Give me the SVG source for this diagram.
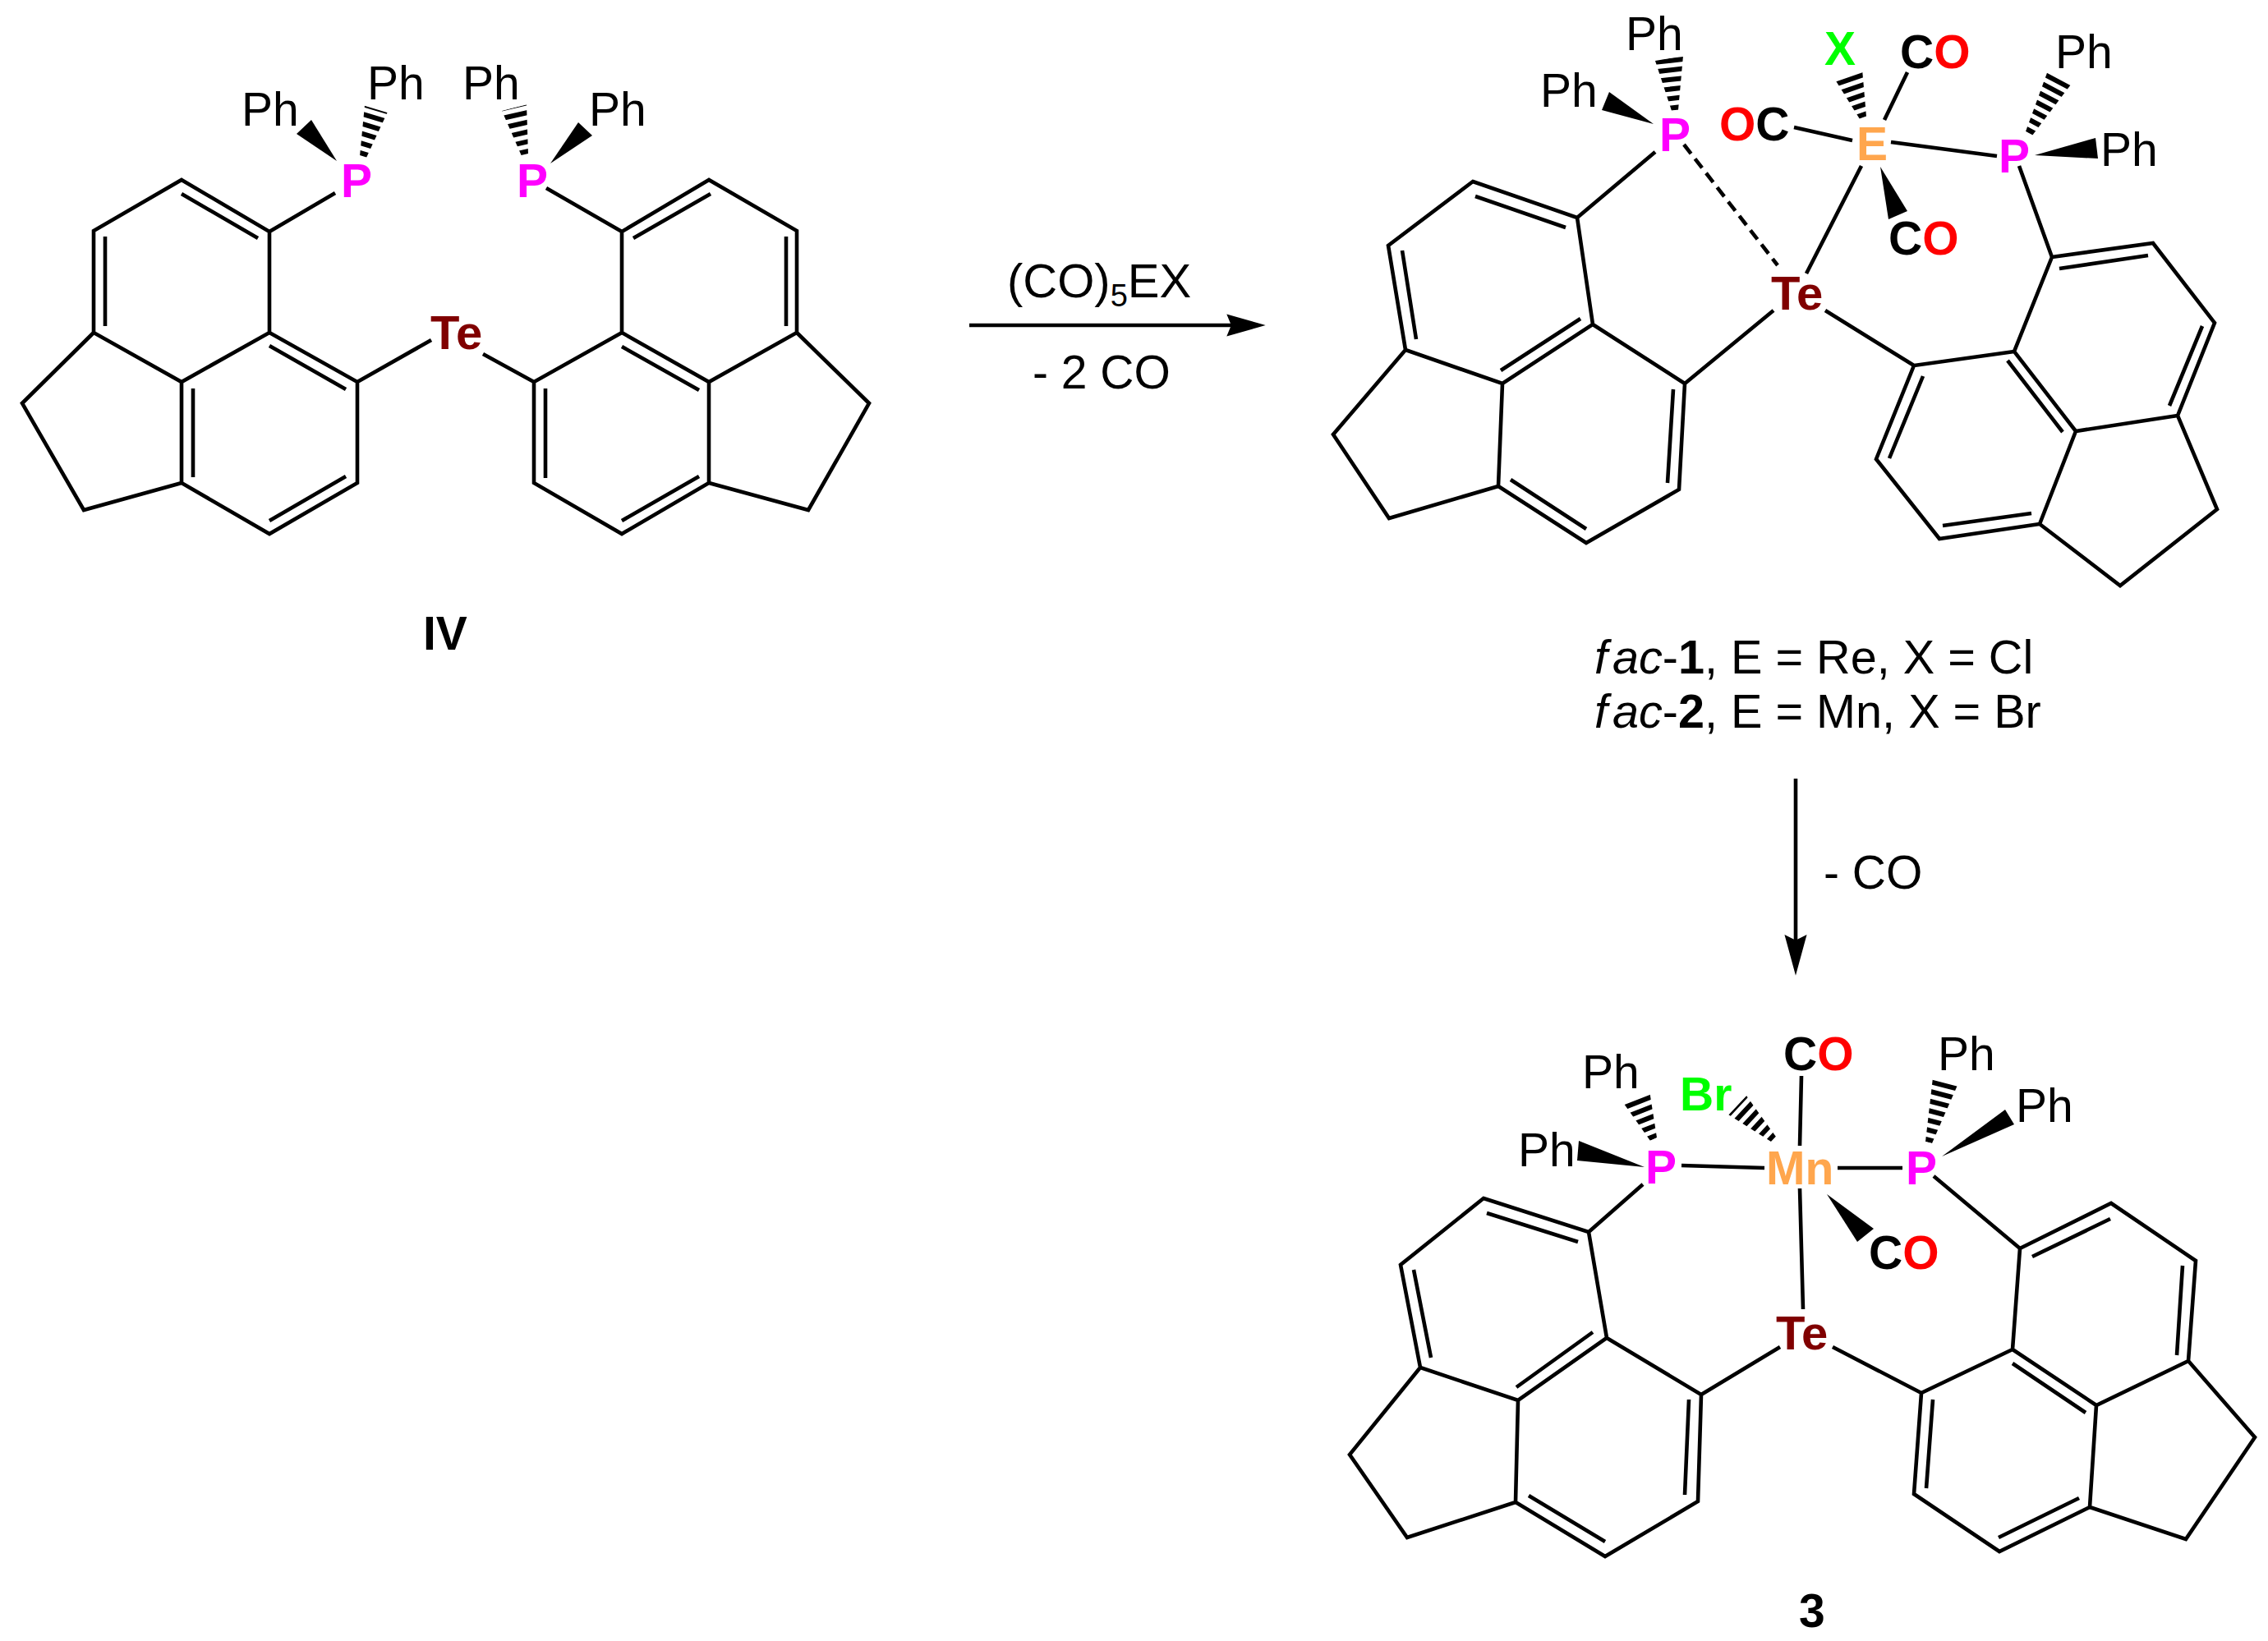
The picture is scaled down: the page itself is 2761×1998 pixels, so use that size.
<svg xmlns="http://www.w3.org/2000/svg" width="2761" height="1998" viewBox="0 0 2761 1998">
<style>
text{font-family:"Liberation Sans",Arial,sans-serif;font-size:57px;fill:#000}
.b{font-weight:bold}
.p{fill:#ff00ff;font-weight:bold}
.te{fill:#800000;font-weight:bold;font-size:58px}
.m{fill:#ffa64d;font-weight:bold}
.g{fill:#00ff00;font-weight:bold}
.o{fill:#ff0000}
.l{font-size:58px}
.n{font-size:57.6px}
.bond{fill:none;stroke:#000;stroke-width:4.6;stroke-linejoin:miter}
.arrow{fill:none;stroke:#000;stroke-width:4.6}
.dash{stroke-dasharray:14 8}
.hash{stroke:#000;stroke-dasharray:6 5.5;fill:none}
</style>
<defs>
<clipPath id="h1"><polygon points="438,190 444,128 472,136 446,192"/></clipPath>
<clipPath id="h2"><polygon points="635,190 611,135 641,127 643,188"/></clipPath>
<clipPath id="h3"><polygon points="2035,135 2015,74 2049,68 2043,134"/></clipPath>
<clipPath id="h4"><polygon points="2264,145 2234,97 2267,84 2272,142"/></clipPath>
<clipPath id="h5"><polygon points="2466,160 2493,86 2521,103 2474,165"/></clipPath>
<clipPath id="h6"><polygon points="2009,1389 1977,1344 2008,1328 2017,1385"/></clipPath>
<clipPath id="h7"><polygon points="2156,1390 2104,1357 2126,1334 2162,1384"/></clipPath>
<clipPath id="h8"><polygon points="2344,1390 2353,1312 2384,1319 2352,1392"/></clipPath>
</defs>

<g id="compound-IV">
<path class="bond" d="M221,219L328,282L328,405L221,465L114,405L114,281ZM328,405L435,465L435,588L328,650L221,588L221,465M114,405L27,491L102,621L221,588
M221,236L314,290M128,288L128,397M328,421L421,474M235,473L235,581M421,580L328,634
M408,235L328,282M525,414L435,465"/>
<path class="bond" d="M863,219L757,282L757,405L863,465L970,405L970,281ZM757,405L650,465L650,588L757,650L863,588L863,465M970,405L1058,491L984,621L863,588
M865,236L771,290M957,288L957,397M757,422L851,475M664,473L664,582M757,634L851,580
M665,229L757,282M588,431L650,465"/>
<polygon points="410,196 361,163 379,146"/>
<polygon points="670,199 704,149 721,165"/>
<line class="hash" x1="441" y1="190" x2="458" y2="133" stroke-width="40" clip-path="url(#h1)"/>
<line class="hash" x1="639" y1="188" x2="626" y2="131" stroke-width="40" clip-path="url(#h2)"/>
<text x="294" y="153">Ph</text>
<text x="447" y="121">Ph</text>
<text x="563" y="121">Ph</text>
<text x="717" y="153">Ph</text>
<text class="p" x="415" y="240">P</text>
<text class="p" x="629" y="240">P</text>
<text class="te" x="524" y="425">Te</text>
<text class="b" x="515" y="791">IV</text>
</g>

<g id="reaction-arrows">
<line class="arrow" x1="1180" y1="396" x2="1500" y2="396"/>
<polygon points="1537,396 1495,384 1500,396 1495,408" stroke="#000" stroke-width="2"/>
<line class="arrow" x1="2186" y1="948" x2="2186" y2="1150"/>
<polygon points="2186,1184 2174,1140 2186,1146 2198,1140" stroke="#000" stroke-width="2"/>
<text class="l" x="1226" y="362">(CO)<tspan font-size="38" dy="11">5</tspan><tspan dy="-11">EX</tspan></text>
<text x="1257" y="473">- 2 CO</text>
<text x="2220" y="1082">- CO</text>
</g>

<g id="compound-1">
<path class="bond" d="M1793,221L1920,265L1939,395L1829,467L1711,426L1690,299ZM1939,395L2051,467L2044,596L1931,661L1824,592L1829,467M1711,426L1623,529L1691,631L1824,592
M1796,239L1906,277M1707,305L1724,413M1924,388L1827,451M2037,474L2030,588M1931,644L1839,584
M2015,185L1920,265M2159,378L2051,467"/>
<path class="bond" d="M2498,313L2621,296L2696,393L2651,506L2527,525L2452,428ZM2452,428L2330,445L2284,559L2361,656L2483,638L2527,525M2651,506L2699,620L2581,713L2483,638
M2507,327L2615,311M2681,397L2641,494M2444,439L2511,526M2341,458L2300,558M2365,640L2473,625
M2458,202L2498,313M2222,378L2330,445"/>
<path class="bond" d="M2184,155L2255,171M2302,173L2431,190M2322,88L2294,146M2266,202L2199,333"/>
<path class="bond dash" d="M2050,176L2164,323"/>
<polygon points="2013,151 1959,112 1950,134"/>
<polygon points="2289,203 2299,267 2322,257"/>
<polygon points="2477,189 2551,168 2554,193"/>
<line class="hash" x1="2039" y1="134" x2="2032" y2="71" stroke-width="42" clip-path="url(#h3)"/>
<line class="hash" x1="2268" y1="143" x2="2250" y2="91" stroke-width="42" clip-path="url(#h4)"/>
<line class="hash" x1="2470" y1="162" x2="2506" y2="94" stroke-width="42" clip-path="url(#h5)"/>
<text x="1979" y="61">Ph</text>
<text x="1875" y="130">Ph</text>
<text x="2502" y="83">Ph</text>
<text x="2557" y="202">Ph</text>
<text class="p" x="2020" y="184">P</text>
<text class="p" x="2433" y="210">P</text>
<text class="m" x="2260" y="195">E</text>
<text class="g" x="2221" y="79">X</text>
<text class="te" x="2156" y="377">Te</text>
<text class="b" x="2313" y="83">C<tspan class="o">O</tspan></text>
<text class="b" x="2299" y="310">C<tspan class="o">O</tspan></text>
<text class="b" x="2093" y="171"><tspan class="o">O</tspan>C</text>
</g>

<g id="compound-labels">
<text class="n" x="1941" y="820"><tspan font-style="italic">f</tspan><tspan font-style="italic" dx="6">ac</tspan>-<tspan class="b">1</tspan>, E = Re, X = Cl</text>
<text class="n" x="1941" y="886"><tspan font-style="italic">f</tspan><tspan font-style="italic" dx="6">ac</tspan>-<tspan class="b">2</tspan>, E = Mn, X = Br</text>
<text class="b" x="2190" y="1981">3</text>
</g>

<g id="compound-3">
<path class="bond" d="M1806,1459L1934,1500L1956,1629L1848,1705L1729,1665L1705,1540ZM1956,1629L2071,1698L2067,1828L1954,1895L1845,1829L1848,1705M1729,1665L1643,1771L1713,1872L1845,1829
M1810,1477L1921,1512M1721,1546L1742,1653M1939,1622L1846,1689M2056,1704L2051,1820M1954,1877L1861,1821
M2000,1442L1934,1500M2167,1640L2071,1698"/>
<path class="bond" d="M2459,1520L2570,1465L2673,1535L2664,1657L2552,1711L2450,1643ZM2450,1643L2339,1696L2330,1819L2434,1889L2544,1835L2552,1711M2664,1657L2745,1750L2661,1874L2544,1835
M2474,1530L2569,1484M2657,1541L2650,1650M2450,1660L2539,1720M2353,1704L2345,1812M2433,1872L2531,1824
M2354,1432L2459,1520M2231,1640L2339,1696"/>
<path class="bond" d="M2047,1419L2148,1422M2237,1422L2316,1422M2193,1310L2191,1395M2191,1447L2195,1594"/>
<polygon points="2002,1421 1922,1389 1920,1413"/>
<polygon points="2364,1408 2441,1351 2452,1369"/>
<polygon points="2224,1454 2281,1496 2261,1512"/>
<line class="hash" x1="2013" y1="1387" x2="1993" y2="1336" stroke-width="42" clip-path="url(#h6)"/>
<line class="hash" x1="2159" y1="1387" x2="2115" y2="1346" stroke-width="42" clip-path="url(#h7)"/>
<line class="hash" x1="2348" y1="1391" x2="2368" y2="1315" stroke-width="42" clip-path="url(#h8)"/>
<text x="1926" y="1325">Ph</text>
<text x="1848" y="1420">Ph</text>
<text x="2359" y="1303">Ph</text>
<text x="2454" y="1366">Ph</text>
<text class="p" x="2003" y="1441">P</text>
<text class="p" x="2320" y="1442">P</text>
<text class="m" x="2150" y="1442">Mn</text>
<text class="g" x="2045" y="1352">Br</text>
<text class="te" x="2162" y="1643">Te</text>
<text class="b" x="2171" y="1303">C<tspan class="o">O</tspan></text>
<text class="b" x="2275" y="1545">C<tspan class="o">O</tspan></text>
</g>
</svg>
